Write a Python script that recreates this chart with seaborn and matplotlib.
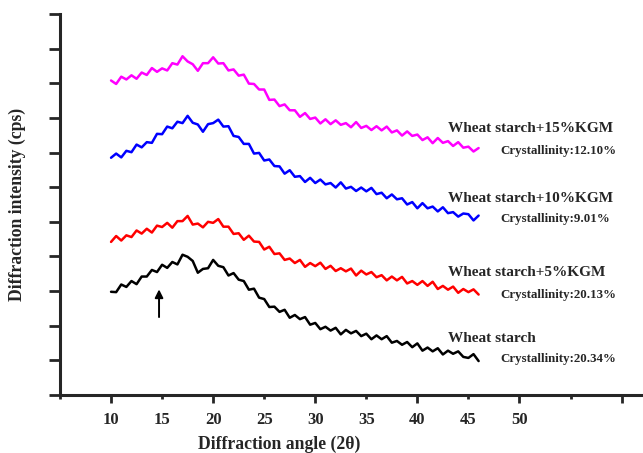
import numpy as np
import pandas as pd
import matplotlib
matplotlib.use("Agg")
import matplotlib.pyplot as plt
import seaborn as sns

# scan angles (2theta), 0.5 deg step
angle = np.arange(10.0, 46.01, 0.5)

# values read by eye, stacked with the offsets used in the figure
kgm15 = [9.08, 8.98, 9.19, 9.11, 9.23, 9.13, 9.31, 9.24, 9.44, 9.33,
         9.43, 9.37, 9.58, 9.54, 9.78, 9.63, 9.55, 9.36, 9.58, 9.58,
         9.75, 9.57, 9.58, 9.37, 9.40, 9.22, 9.25, 8.99, 8.98, 8.82,
         8.82, 8.52, 8.53, 8.34, 8.39, 8.22, 8.22, 8.03, 8.14, 7.97,
         8.01, 7.84, 7.96, 7.82, 7.93, 7.80, 7.85, 7.73, 7.88, 7.71,
         7.77, 7.65, 7.76, 7.64, 7.75, 7.58, 7.64, 7.49, 7.61, 7.48,
         7.52, 7.36, 7.44, 7.27, 7.42, 7.28, 7.33, 7.19, 7.30, 7.14,
         7.17, 7.03, 7.13]
kgm10 = [6.85, 6.97, 6.86, 7.05, 7.01, 7.23, 7.15, 7.30, 7.28, 7.54,
         7.53, 7.75, 7.70, 7.89, 7.85, 8.06, 7.86, 7.81, 7.60, 7.82,
         7.85, 7.95, 7.75, 7.76, 7.48, 7.45, 7.25, 7.25, 6.97, 6.99,
         6.77, 6.80, 6.61, 6.60, 6.39, 6.49, 6.30, 6.32, 6.15, 6.27,
         6.12, 6.22, 6.08, 6.12, 5.99, 6.14, 5.96, 6.01, 5.89, 5.99,
         5.88, 5.98, 5.80, 5.84, 5.68, 5.79, 5.65, 5.68, 5.50, 5.57,
         5.39, 5.54, 5.39, 5.44, 5.30, 5.42, 5.25, 5.28, 5.15, 5.24,
         5.22, 5.04, 5.18]
kgm5 = [4.42, 4.59, 4.46, 4.61, 4.56, 4.75, 4.66, 4.80, 4.69, 4.89,
        4.85, 4.97, 4.83, 5.02, 5.02, 5.17, 4.92, 4.95, 4.84, 5.00,
        4.97, 5.08, 4.86, 4.86, 4.65, 4.67, 4.48, 4.60, 4.43, 4.42,
        4.20, 4.28, 4.07, 4.09, 3.90, 3.94, 3.81, 3.90, 3.70, 3.81,
        3.72, 3.82, 3.64, 3.73, 3.58, 3.66, 3.57, 3.65, 3.45, 3.59,
        3.48, 3.55, 3.40, 3.46, 3.31, 3.42, 3.31, 3.41, 3.22, 3.29,
        3.18, 3.29, 3.15, 3.27, 3.06, 3.15, 3.04, 3.13, 2.95, 3.06,
        2.97, 3.05, 2.90]
wheat = [2.98, 2.97, 3.19, 3.12, 3.29, 3.20, 3.42, 3.42, 3.61, 3.55,
         3.76, 3.67, 3.84, 3.77, 4.05, 3.99, 3.87, 3.53, 3.64, 3.66,
         3.90, 3.73, 3.69, 3.45, 3.52, 3.33, 3.29, 3.04, 3.07, 2.81,
         2.77, 2.54, 2.55, 2.40, 2.46, 2.23, 2.31, 2.19, 2.25, 2.03,
         2.08, 1.90, 1.97, 1.86, 1.94, 1.75, 1.88, 1.78, 1.85, 1.70,
         1.77, 1.61, 1.72, 1.61, 1.70, 1.51, 1.56, 1.45, 1.53, 1.38,
         1.49, 1.28, 1.37, 1.26, 1.35, 1.17, 1.28, 1.19, 1.26, 1.10,
         1.07, 1.18, 0.98]

names = ['Wheat starch+15%KGM', 'Wheat starch+10%KGM',
         'Wheat starch+5%KGM', 'Wheat starch']
cryst = ['Crystallinity:12.10%', 'Crystallinity:9.01%',
         'Crystallinity:20.13%', 'Crystallinity:20.34%']
colors = ['#FF00FF', '#0000FF', '#FF0000', '#000000']

df = pd.DataFrame({'angle': angle,
                   names[0]: kgm15, names[1]: kgm10,
                   names[2]: kgm5, names[3]: wheat})
df = df.melt(id_vars='angle', var_name='sample', value_name='intensity')

sns.set_style('ticks')
plt.rcParams['font.family'] = ['Liberation Serif', 'DejaVu Serif']
plt.rcParams['font.weight'] = 'bold'

fig = plt.figure(figsize=(6.43, 4.53), dpi=100)
ax = fig.add_axes([60 / 643, 58 / 453, 583 / 643, 381 / 453])

sns.lineplot(data=df, x='angle', y='intensity', hue='sample',
             palette=dict(zip(names, colors)), estimator=None,
             legend=False, linewidth=1.8, ax=ax)

ax.set_xlim(5, 62.1)
ax.set_ylim(0, 11)
ax.set_xticks(range(10, 61, 10))
ax.set_xticklabels(['10', '20', '30', '40', '50', ''])
ax.set_xticks([5, 15, 25, 35, 45, 55], minor=True)
ax.set_xticklabels(['', '15', '25', '35', '45', ''], minor=True)
ax.set_yticks(range(0, 12))
ax.set_yticklabels([])

for s in ['top', 'right']:
    ax.spines[s].set_visible(False)
for s in ['left', 'bottom']:
    ax.spines[s].set_linewidth(2.2)

ax.tick_params(axis='x', which='major', direction='out', length=6,
               width=2, pad=6, labelsize=12)
ax.tick_params(axis='x', which='minor', direction='out', length=3,
               width=2, pad=9, labelsize=12)
ax.tick_params(axis='y', direction='out', length=8, width=2)

ax.set_xlabel('Diffraction angle (2\u03b8)', fontsize=12.7, fontweight='bold')
ax.set_ylabel('Diffraction intensity (cps)', fontsize=12.7, fontweight='bold')
ax.xaxis.set_label_coords((279 - 60) / 583, (395 - 436) / 381)
ax.yaxis.set_label_coords((26 - 60) / 583, 0.5)

name_y = [7.69, 5.66, 3.53, 1.62]
cryst_y = [7.05, 5.09, 2.89, 1.04]
for n, c, ny, cy in zip(names, cryst, name_y, cryst_y):
    ax.text(43.0, ny, n, fontsize=11, fontweight='bold', va='center')
    ax.text(48.1, cy, c, fontsize=9.3, fontweight='bold', va='center')

ax.annotate('', xy=(14.7, 3.05), xytext=(14.7, 2.25),
            arrowprops=dict(arrowstyle='-|>', color='black', lw=1.4,
                            mutation_scale=12, shrinkA=0, shrinkB=0))

fig.savefig('out.png', dpi=100)
